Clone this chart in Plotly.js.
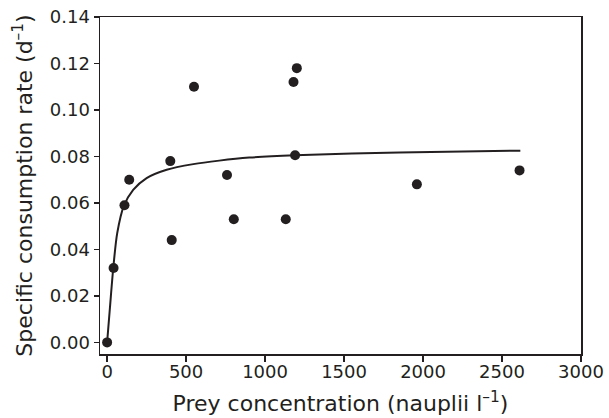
<!DOCTYPE html>
<html>
<head>
<meta charset="utf-8">
<script src="https://cdn.plot.ly/plotly-3.0.1.min.js"></script>
<style>html,body{margin:0;padding:0;background:#fff;}#chart{width:609px;height:418px;}</style>
</head>
<body>
<div id="chart"></div>
<script>
// Observed data points
const preyConc = [0, 41, 110, 140, 400, 409, 550, 759, 802, 1131, 1180, 1190, 1201, 1961, 2611];
const consRate = [0.000, 0.032, 0.059, 0.070, 0.078, 0.044, 0.110, 0.072, 0.053, 0.053, 0.112, 0.0805, 0.118, 0.068, 0.074];

// Fitted curve
const curveX = [0, 18, 39, 64, 106, 165, 250, 377, 546, 710, 900, 1190, 1850, 2616];
const curveY = [0.000, 0.015, 0.032, 0.047, 0.0587, 0.0656, 0.0707, 0.0743, 0.0767, 0.0782, 0.0795, 0.0805, 0.0817, 0.0825];

const xTicks = [0, 500, 1000, 1500, 2000, 2500, 3000];
const yTicks = [0.00, 0.02, 0.04, 0.06, 0.08, 0.10, 0.12, 0.14];

const ink = '#231f20';
const font = 'DejaVu Sans, Liberation Sans, Arial, sans-serif';

const traces = [
  {x: curveX, y: curveY, mode: 'lines', line: {color: ink, width: 2, shape: 'spline', smoothing: 0.8}, hoverinfo: 'skip'},
  {x: preyConc, y: consRate, mode: 'markers', marker: {color: ink, size: 10}}
];

const layout = {
  width: 609, height: 418,
  margin: {l: 100, r: 28, t: 17, b: 64},
  paper_bgcolor: '#fff', plot_bgcolor: '#fff',
  showlegend: false,
  font: {family: font, color: ink, size: 18},
  xaxis: {
    range: [-45, 3000], tickvals: xTicks, ticktext: xTicks.map(String),
    showgrid: false, zeroline: false, showline: true, mirror: true, linecolor: ink, linewidth: 1.5,
    ticks: 'outside', ticklen: 6, tickwidth: 1.5, tickcolor: ink, ticklabelstandoff: -5,
    tickfont: {family: font, size: 18, color: ink},
    title: {text: 'Prey concentration (nauplii l<sup>–1</sup>)', font: {family: font, size: 22, color: ink}, standoff: 14},
    automargin: false
  },
  yaxis: {
    range: [-0.005, 0.14], tickvals: yTicks, ticktext: yTicks.map(v => v.toFixed(2)),
    showgrid: false, zeroline: false, showline: true, mirror: true, linecolor: ink, linewidth: 1.5,
    ticks: 'outside', ticklen: 5, tickwidth: 1.5, tickcolor: ink,
    tickfont: {family: font, size: 18, color: ink},
    title: {text: 'Specific consumption rate (d<sup>–1</sup>)', font: {family: font, size: 22, color: ink}, standoff: 11},
    automargin: false
  }
};

Plotly.newPlot('chart', traces, layout, {displayModeBar: false, staticPlot: true});
</script>
</body>
</html>
